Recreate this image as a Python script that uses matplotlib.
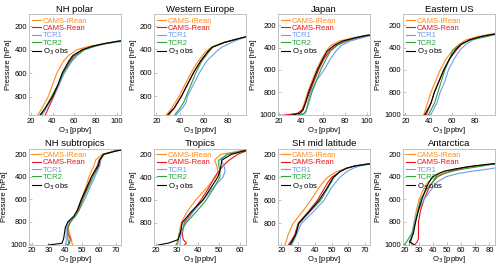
import matplotlib
matplotlib.use('Agg')
import matplotlib.pyplot as plt

plt.rcParams['font.family'] = ['Liberation Sans', 'DejaVu Sans']

names = ['CAMS-iRean', 'CAMS-Rean', 'TCR1', 'TCR2', 'O$_3$ obs']
colors = ['#ff8c1a', '#e8141c', '#6f9bf0', '#2ca33c', 'black']

titles = ['NH polar', 'Western Europe', 'Japan', 'Eastern US',
          'NH subtropics', 'Tropics', 'SH mid latitude', 'Antarctica']

####NH polar
p_nhp = [960, 900, 800, 700, 600, 500, 450, 400, 370, 350, 330, 310, 280]
o_nhp = [[26, 30, 36, 40, 44, 50, 55, 63, 75, 87, 100, 118, 160],
         [33, 36, 41, 46, 50, 56, 60, 68, 78, 88, 102, 120, 160],
         [30, 34, 40, 46, 51, 58, 63, 70, 80, 90, 105, 122, 160],
         [29, 33, 39, 45, 50, 57, 62, 70, 80, 88, 100, 115, 150],
         [28, 33, 40, 45, 49, 55, 59, 68, 78, 88, 100, 120, 160]]

####Western Europe
p_we = [965, 900, 850, 800, 700, 600, 500, 420, 380, 340, 310, 290, 260]
o_we = [[28, 33, 36, 39, 44, 49, 55, 61, 66, 76, 88, 96, 120],
        [30, 35, 38, 41, 46, 51, 57, 63, 67, 77, 88, 96, 120],
        [36, 42, 45, 46, 51, 56, 62, 70, 75, 83, 90, 96, 115],
        [35, 40, 43, 45, 49, 53, 58, 64, 67, 77, 88, 95, 118],
        [29, 35, 38, 41, 46, 51, 57, 63, 67, 77, 88, 96, 120]]

####Japan
p_jp = [1010, 1000, 990, 960, 900, 800, 700, 600, 500, 430, 380, 340, 310, 290, 260]
o_jp = [[26, 33, 38, 41, 43, 46, 50, 54, 59, 63, 67, 75, 88, 100, 130],
        [22, 30, 37, 41, 44, 48, 52, 56, 61, 66, 72, 82, 92, 102, 130],
        [38, 42, 44, 45, 46, 49, 54, 61, 67, 72, 77, 85, 96, 104, 130],
        [36, 40, 43, 45, 47, 50, 54, 58, 63, 67, 73, 80, 90, 98, 125],
        [30, 35, 39, 42, 44, 47, 51, 55, 60, 64, 70, 78, 90, 100, 130]]

####Eastern US
p_us = [1010, 1000, 900, 800, 700, 600, 500, 420, 370, 330, 300, 280, 250]
o_us = [[35, 36, 39, 42, 46, 50, 55, 61, 66, 72, 82, 92, 120],
        [37, 38, 42, 45, 49, 53, 58, 64, 68, 75, 85, 95, 120],
        [41, 42, 47, 50, 54, 57, 62, 67, 72, 78, 86, 95, 120],
        [39, 40, 45, 48, 51, 54, 58, 61, 67, 76, 90, 98, 125],
        [36, 37, 42, 45, 49, 53, 58, 63, 68, 75, 85, 95, 120]]

####NH subtropics
p_nhs = [1005, 990, 950, 900, 850, 800, 750, 700, 600, 500, 400, 300, 250, 200, 170, 150]
o_nhs = [[44.5, 44, 43.5, 42.5, 41.5, 43, 45.5, 47, 49.5, 52, 54, 57, 58, 62, 69, 78],
         [41, 42.5, 43, 41.5, 41.5, 43, 45.5, 47.5, 50, 53, 55.5, 59, 60, 63, 70, 78],
         [40.5, 40.5, 40.5, 40.5, 40.5, 42, 45.5, 48, 51.5, 54.5, 57.5, 60.5, 61, 63, 70, 78],
         [42, 42, 41.5, 41.5, 41.5, 43, 46, 48, 50.5, 53.5, 56.5, 60, 60.5, 63, 70, 78],
         [30, 38, 39, 39.5, 40, 41.5, 45, 47, 49.5, 52.5, 55.5, 59.5, 60.5, 62.5, 70, 78]]

####Tropics
p_tr = [997, 980, 950, 900, 800, 700, 600, 500, 400, 350, 300, 250, 200, 170, 150]
o_tr = [[30, 30.5, 30.5, 31, 32, 35, 39, 44, 48.5, 49.5, 49, 48, 51, 60, 68],
        [33.5, 34.5, 33, 32.5, 33.5, 37.5, 41.5, 45, 48, 50, 52, 55, 59, 63, 68],
        [31.5, 31.5, 31.5, 32, 34, 38, 42.5, 47, 52, 53, 52.5, 51, 54, 61, 68],
        [29.5, 30, 30.5, 31, 34.5, 39.5, 44, 47.5, 50.5, 50.5, 50, 50, 54, 61, 68],
        [21, 26, 30.5, 31.5, 32.5, 37, 42.5, 46, 49.5, 50.5, 51, 51.5, 56, 62, 68]]

####SH mid latitude
p_sh = [990, 950, 900, 800, 700, 600, 500, 450, 400, 350, 320, 300, 280, 250]
o_sh = [[22, 23, 24, 27, 32.5, 37.5, 42, 44.5, 47.5, 53, 59, 64, 74, 90],
        [24, 26, 28, 30, 36, 41.5, 45.5, 47.5, 50, 55, 59, 64, 74, 90],
        [25.5, 27.5, 29, 32, 39, 45.5, 49.5, 52, 55, 59, 63, 67, 74, 90],
        [26, 27, 28.5, 30.5, 37, 43.5, 47.5, 49.5, 51.5, 55, 59, 64, 72, 88],
        [25, 26.5, 28.5, 30.5, 36.5, 42.5, 47, 49, 51, 55, 59, 64, 74, 90]]

####Antarctica
p_an = [1005, 980, 950, 900, 800, 700, 600, 500, 450, 400, 370, 350, 330, 310, 290, 270]
o_an = [[25, 24.5, 24.5, 25.5, 26.5, 28, 30, 33.5, 36, 40.5, 45, 49, 56, 66, 80, 95],
        [27, 28.5, 29.5, 29.5, 29.5, 31, 33.5, 37, 39.5, 43, 48, 52.5, 58, 67, 80, 95],
        [23, 23.5, 24, 25, 26.5, 29.5, 33.5, 39.5, 42.5, 49, 58, 68, 80, 90, 100, 110],
        [19.5, 21, 22.5, 25, 27.5, 29, 31, 36, 39.5, 42, 48, 54, 62, 72, 82, 95],
        [26.5, 23, 24.5, 26, 27.5, 29.5, 32, 35, 37, 39.5, 44, 48, 56, 65, 78, 95]]

pres = [p_nhp, p_we, p_jp, p_us, p_nhs, p_tr, p_sh, p_an]
ozone = [o_nhp, o_we, o_jp, o_us, o_nhs, o_tr, o_sh, o_an]
xlims = [(18, 104), (18, 95), (19, 103), (18, 97), (18.5, 73), (19, 63), (18, 73), (18.5, 84)]
xticks = [[20, 40, 60, 80, 100], [20, 40, 60, 80], [20, 40, 60, 80, 100], [20, 40, 60, 80],
          [20, 30, 40, 50, 60, 70], [20, 30, 40, 50, 60], [20, 30, 40, 50, 60, 70],
          [20, 30, 40, 50, 60, 70, 80]]
ylims = [(960, 100), (965, 100), (1010, 100), (1010, 100),
         (1005, 150), (997, 150), (988, 150), (1008, 150)]

fig = plt.figure(figsize=(5, 2.66), dpi=100)
lefts = [0.058, 0.308, 0.556, 0.806]
for i in range(8):
    row, col = divmod(i, 4)
    if row == 0:
        ax = fig.add_axes([lefts[col], 0.566, 0.184, 0.38])
    else:
        ax = fig.add_axes([lefts[col], 0.079, 0.184, 0.362])
    for j in range(5):
        ax.plot(ozone[i][j], pres[i], color=colors[j], lw=0.8, label=names[j])
    ax.set_xticks(xticks[i])
    ax.set_yticks([200, 400, 600, 800, 1000])
    # limits after ticks, otherwise set_ticks widens the view
    ax.set_xlim(xlims[i])
    ax.set_ylim(ylims[i])
    ax.tick_params(labelsize=5.5, length=2, width=0.4, direction='in', color='#999999', pad=1.5)
    for s in ax.spines.values():
        s.set_color('#aaaaaa')
        s.set_linewidth(0.5)
    ax.set_title(titles[i], fontsize=6.8, pad=2)
    ax.set_xlabel('O$_3$ [ppbv]', fontsize=5.5, labelpad=0)
    ax.set_ylabel('Pressure [hPa]', fontsize=5.5, labelpad=2)
    ax.legend(loc='upper left', fontsize=5.5, frameon=False, labelcolor='linecolor',
              handlelength=1.2, handletextpad=0.2, labelspacing=0.0,
              borderpad=0.2, borderaxespad=0.2)

plt.savefig('out.png', dpi=100)
